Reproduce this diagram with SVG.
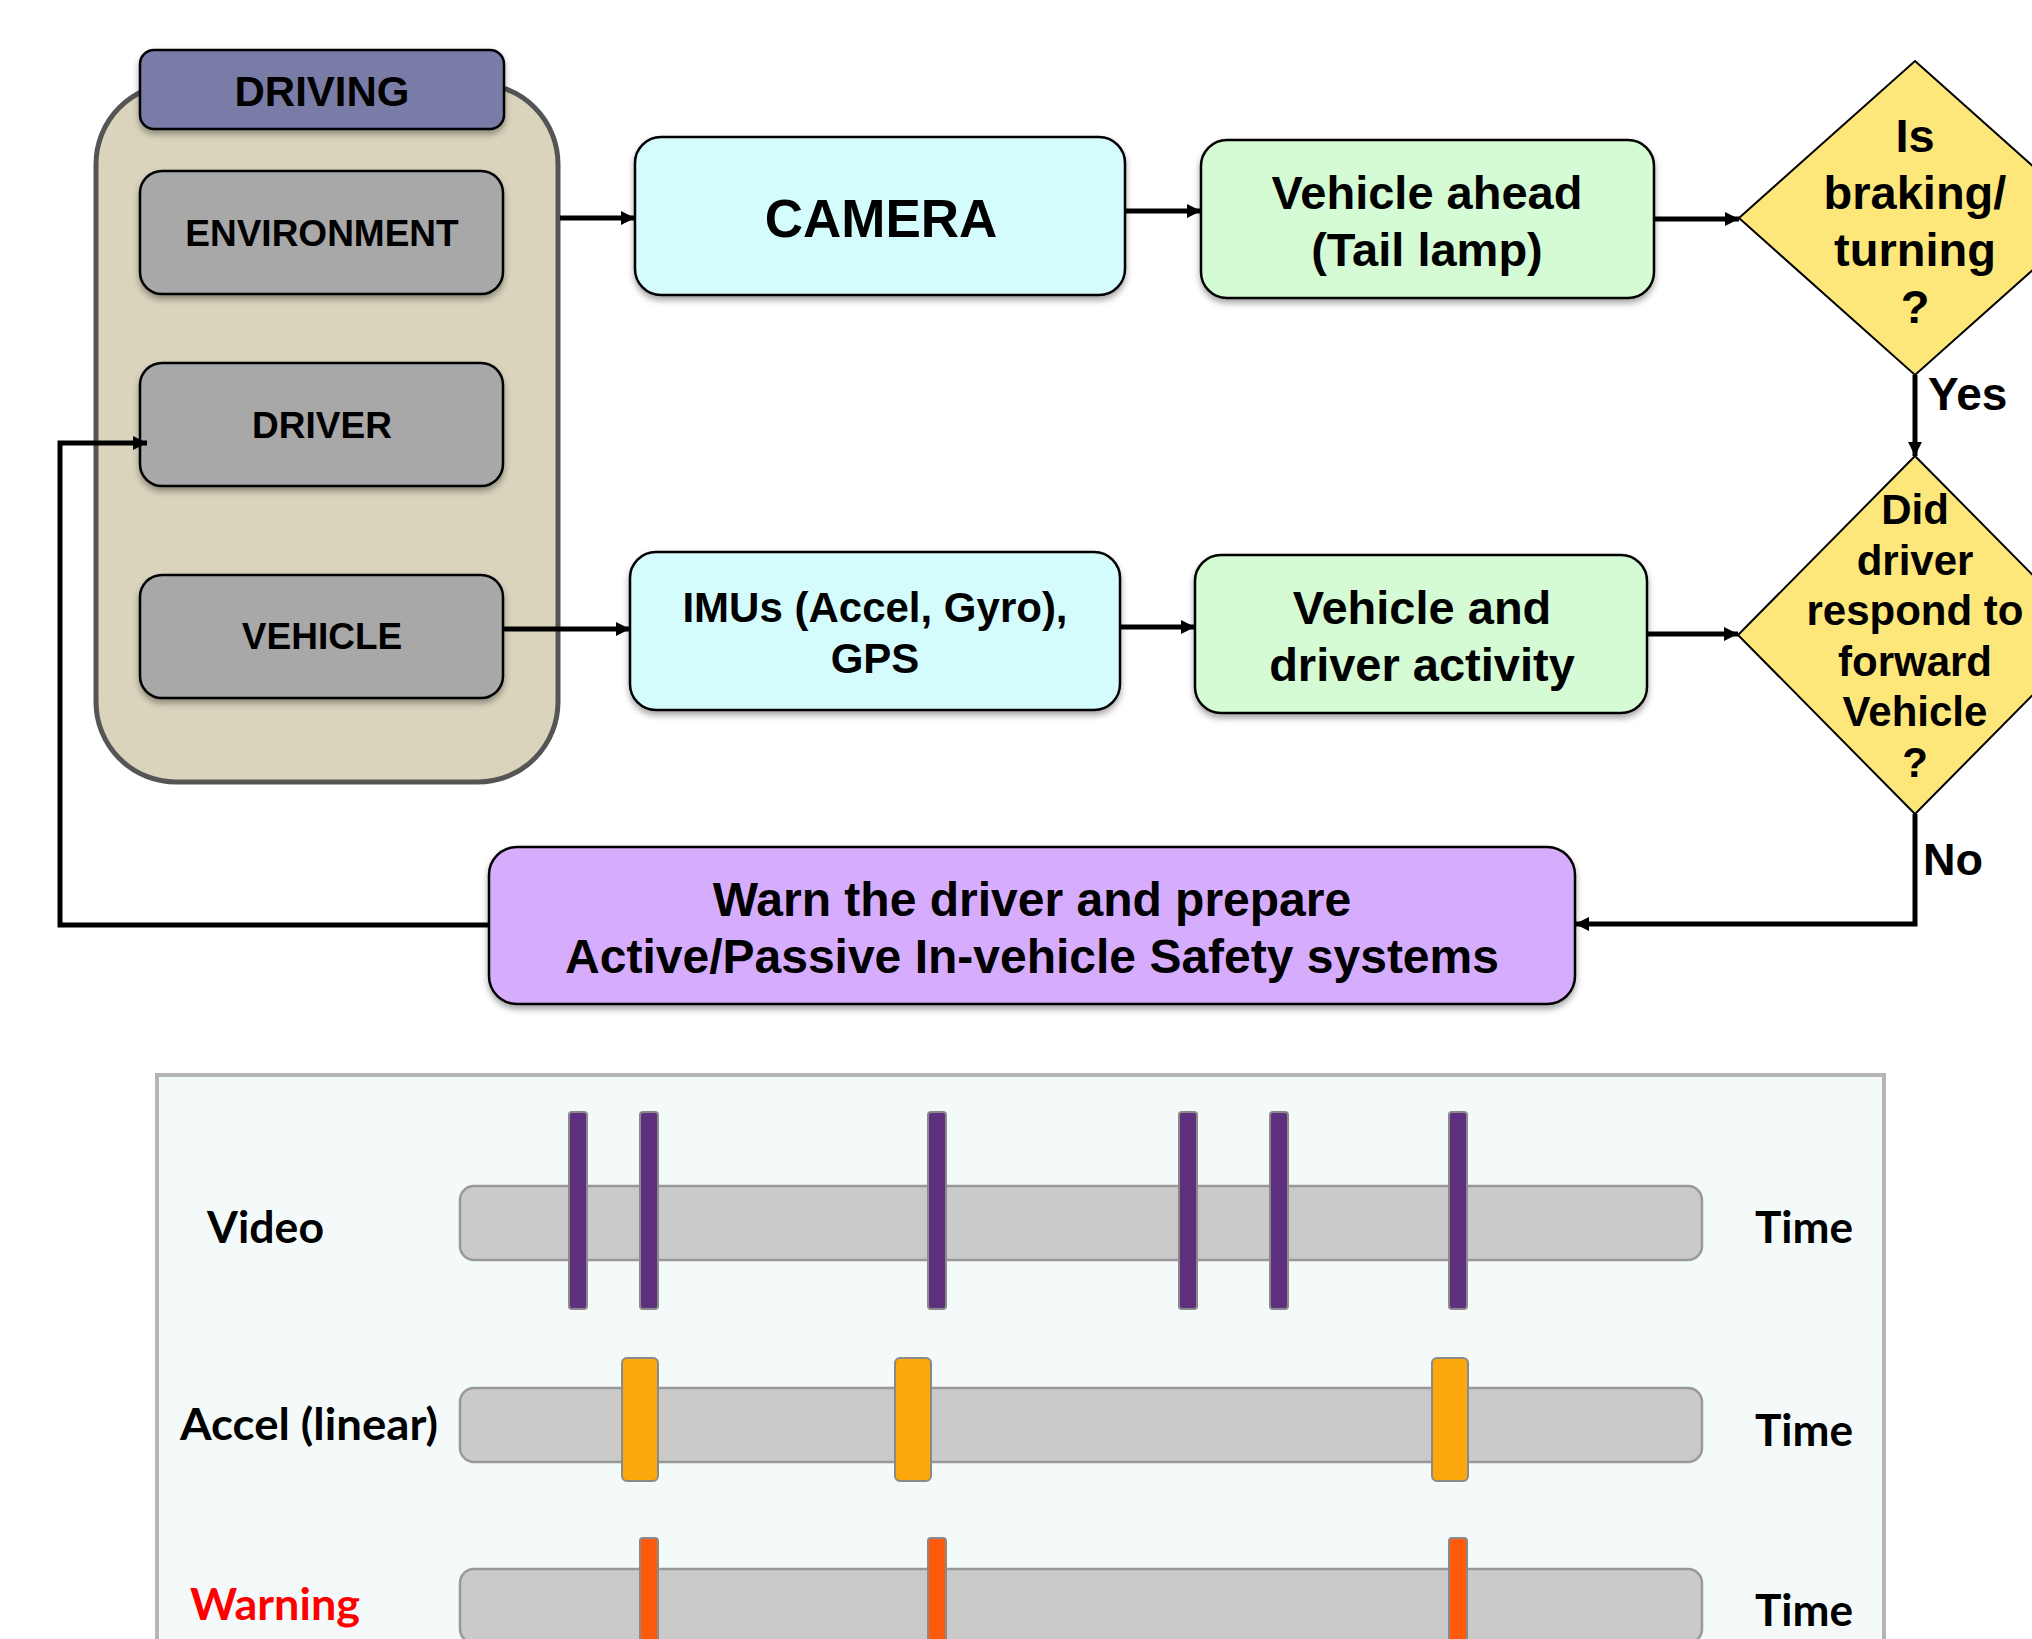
<svg xmlns="http://www.w3.org/2000/svg" width="2032" height="1639" viewBox="0 0 2032 1639">
<style>
.t{font-family:"Liberation Sans",Arial,sans-serif;font-weight:bold;fill:#000;text-anchor:middle}
.b{stroke:#000;stroke-width:2.5}
.ln{fill:none;stroke:#000;stroke-width:5}
.lb{font-family:Lato,"Open Sans",sans-serif;font-weight:bold;fill:#000}
.trk{fill:#cacaca;stroke:#999;stroke-width:2.5}
.vb{fill:#5e2f7d;stroke:#8a8a8a;stroke-width:2}
.ab{fill:#fca70b;stroke:#8a8a8a;stroke-width:2}
.wb{fill:#ff5a0c;stroke:#8a8a8a;stroke-width:2}
</style>
<defs>
<filter id="sh" x="-10%" y="-10%" width="120%" height="130%">
<feDropShadow dx="0" dy="4" stdDeviation="3" flood-color="#000" flood-opacity="0.35"/>
</filter>
<marker id="ar" viewBox="0 0 10 10" refX="10" refY="5" markerWidth="15" markerHeight="14" markerUnits="userSpaceOnUse" orient="auto">
<path d="M0,0 L10,5 L0,10 z" fill="#000"/>
</marker>
</defs>
<rect width="2032" height="1639" fill="#fff"/>

<g id="driving">
<rect x="96" y="84" width="462" height="698" rx="80" fill="#dad4bd" stroke="#555" stroke-width="5"/>
<rect x="140" y="50" width="364" height="79" rx="14" fill="#7a7ba8" class="b" filter="url(#sh)"/>
<text class="t" x="322" y="106" font-size="42">DRIVING</text>
</g>
<g id="environment">
<rect x="140" y="171" width="363" height="123" rx="22" fill="#a8a8a8" class="b" filter="url(#sh)"/>
<text class="t" x="322" y="246" font-size="37">ENVIRONMENT</text>
</g>
<g id="driver">
<rect x="140" y="363" width="363" height="123" rx="22" fill="#a8a8a8" class="b" filter="url(#sh)"/>
<text class="t" x="322" y="438" font-size="37">DRIVER</text>
</g>
<g id="vehicle">
<rect x="140" y="575" width="363" height="123" rx="22" fill="#a8a8a8" class="b" filter="url(#sh)"/>
<text class="t" x="322" y="649" font-size="37">VEHICLE</text>
</g>
<g id="camera">
<rect x="635" y="137" width="490" height="158" rx="26" fill="#d4fcfc" class="b" filter="url(#sh)"/>
<text class="t" x="881" y="237" font-size="53">CAMERA</text>
</g>
<g id="vehicle-ahead">
<rect x="1201" y="140" width="453" height="158" rx="26" fill="#d4fbd4" class="b" filter="url(#sh)"/>
<text class="t" x="1427" y="209" font-size="47">Vehicle ahead</text>
<text class="t" x="1427" y="266" font-size="47">(Tail lamp)</text>
</g>
<g id="decision-braking">
<polygon points="1915,61 2091,218 1915,375 1739,218" fill="#fee77a" stroke="#000" stroke-width="2"/>
<text class="t" x="1915" y="152" font-size="47">Is</text>
<text class="t" x="1915" y="209" font-size="47">braking/</text>
<text class="t" x="1915" y="266" font-size="47">turning</text>
<text class="t" x="1915" y="323" font-size="47">?</text>
</g>
<g id="imus">
<rect x="630" y="552" width="490" height="158" rx="26" fill="#d4fcfc" class="b" filter="url(#sh)"/>
<text class="t" x="875" y="622" font-size="42">IMUs (Accel, Gyro),</text>
<text class="t" x="875" y="673" font-size="42">GPS</text>
</g>
<g id="activity">
<rect x="1195" y="555" width="452" height="158" rx="26" fill="#d4fbd4" class="b" filter="url(#sh)"/>
<text class="t" x="1422" y="624" font-size="47">Vehicle and</text>
<text class="t" x="1422" y="681" font-size="47">driver activity</text>
</g>
<g id="decision-respond">
<polygon points="1915,456 2092,635 1915,814 1738,635" fill="#fee77a" stroke="#000" stroke-width="2"/>
<text class="t" x="1915" y="524" font-size="42">Did</text>
<text class="t" x="1915" y="575" font-size="42">driver</text>
<text class="t" x="1915" y="625" font-size="42">respond to</text>
<text class="t" x="1915" y="676" font-size="42">forward</text>
<text class="t" x="1915" y="726" font-size="42">Vehicle</text>
<text class="t" x="1915" y="777" font-size="42">?</text>
</g>
<g id="warn">
<rect x="489" y="847" width="1086" height="157" rx="28" fill="#d6acfd" class="b" filter="url(#sh)"/>
<text class="t" x="1032" y="916" font-size="48">Warn the driver and prepare</text>
<text class="t" x="1032" y="973" font-size="48">Active/Passive In-vehicle Safety systems</text>
</g>

<g id="connectors">
<line class="ln" x1="560" y1="218" x2="635" y2="218" marker-end="url(#ar)"/>
<line class="ln" x1="1125" y1="211" x2="1201" y2="211" marker-end="url(#ar)"/>
<line class="ln" x1="1654" y1="219" x2="1739" y2="219" marker-end="url(#ar)"/>
<line class="ln" x1="1915" y1="375" x2="1915" y2="456" marker-end="url(#ar)"/>
<line class="ln" x1="503" y1="629" x2="630" y2="629" marker-end="url(#ar)"/>
<line class="ln" x1="1120" y1="627" x2="1195" y2="627" marker-end="url(#ar)"/>
<line class="ln" x1="1647" y1="634" x2="1738" y2="634" marker-end="url(#ar)"/>
<polyline class="ln" points="1915,814 1915,924 1575,924" marker-end="url(#ar)"/>
<polyline class="ln" points="489,925 60,925 60,443 147,443" marker-end="url(#ar)"/>
<text class="t" x="1928" y="410" font-size="46" text-anchor="start" style="text-anchor:start">Yes</text>
<text class="t" x="1923" y="875" font-size="45" style="text-anchor:start">No</text>
</g>

<g id="timeline">
<rect x="157" y="1075" width="1727" height="640" fill="#f4fafa" stroke="#b5b5b5" stroke-width="4"/>
<rect class="trk" x="460" y="1186" width="1242" height="74" rx="14"/>
<rect class="trk" x="460" y="1388" width="1242" height="74" rx="14"/>
<rect class="trk" x="460" y="1569" width="1242" height="74" rx="14"/>
<rect class="vb" x="569" y="1112" width="18" height="197" rx="3"/>
<rect class="vb" x="640" y="1112" width="18" height="197" rx="3"/>
<rect class="vb" x="928" y="1112" width="18" height="197" rx="3"/>
<rect class="vb" x="1179" y="1112" width="18" height="197" rx="3"/>
<rect class="vb" x="1270" y="1112" width="18" height="197" rx="3"/>
<rect class="vb" x="1449" y="1112" width="18" height="197" rx="3"/>
<rect class="ab" x="622" y="1358" width="36" height="123" rx="5"/>
<rect class="ab" x="895" y="1358" width="36" height="123" rx="5"/>
<rect class="ab" x="1432" y="1358" width="36" height="123" rx="5"/>
<rect class="wb" x="640" y="1538" width="18" height="120" rx="3"/>
<rect class="wb" x="928" y="1538" width="18" height="120" rx="3"/>
<rect class="wb" x="1449" y="1538" width="18" height="120" rx="3"/>
<text class="lb" x="207" y="1243" font-size="44" textLength="117" lengthAdjust="spacingAndGlyphs">Video</text>
<text class="lb" x="180" y="1440" font-size="44" textLength="258" lengthAdjust="spacingAndGlyphs">Accel (linear)</text>
<text class="lb" x="190" y="1620" font-size="44" fill="#ff0000" style="fill:#ff0000" textLength="170" lengthAdjust="spacingAndGlyphs">Warning</text>
<text class="lb" x="1755" y="1243" font-size="44" textLength="98" lengthAdjust="spacingAndGlyphs">Time</text>
<text class="lb" x="1755" y="1446" font-size="44" textLength="98" lengthAdjust="spacingAndGlyphs">Time</text>
<text class="lb" x="1755" y="1626" font-size="44" textLength="98" lengthAdjust="spacingAndGlyphs">Time</text>
</g>
</svg>
